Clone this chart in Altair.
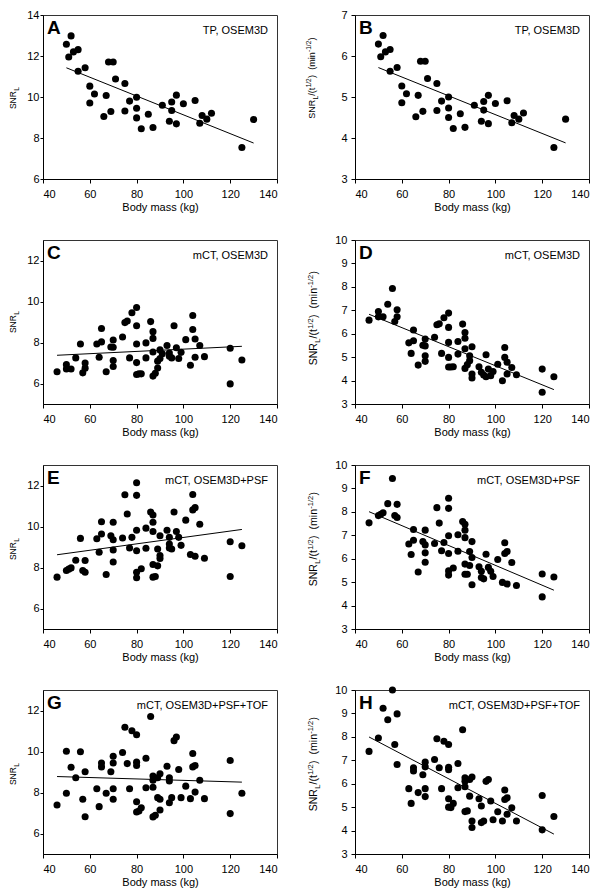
import altair as alt
import pandas as pd

FONT = "Liberation Sans"
W, H = 234, 164

# ---------------- data ----------------
mass_a = [50, 52, 51, 53, 55, 55, 58, 60, 60, 62, 66, 67, 68, 70, 69, 71, 75, 75, 77, 80,
          80, 80, 82, 85, 87, 91, 95, 97, 95, 94, 97, 100, 105, 107, 108, 110, 112, 125, 130]
snr_a = [12.57, 12.98, 11.95, 12.2, 12.31, 11.26, 11.43, 10.53, 9.71, 10.15, 9.05, 10.07, 11.71,
         11.71, 9.29, 10.88, 10.66, 9.32, 9.8, 9.99, 9.45, 8.98, 8.45, 9.16, 8.51, 9.6, 9.76,
         10.09, 9.34, 8.82, 8.69, 9.67, 9.83, 8.72, 9.1, 8.92, 9.21, 7.54, 8.9]

mass_b = mass_a
snr_b = [6.29, 6.5, 5.98, 6.1, 6.16, 5.63, 5.72, 5.27, 4.86, 5.08, 4.52, 5.04, 5.87, 5.87, 4.65,
         5.45, 5.33, 4.67, 4.9, 5.0, 4.73, 4.5, 4.23, 4.59, 4.26, 4.8, 4.89, 5.04, 4.68, 4.41,
         4.35, 4.84, 4.91, 4.37, 4.55, 4.46, 4.61, 3.77, 4.46]

mass_c = [46, 50, 50, 52, 54, 56, 57, 58, 58, 63, 64, 65, 65, 67, 69, 70, 70, 70, 70, 74, 75, 76,
          77, 78, 80, 80, 80, 80, 80, 81, 82, 84, 84, 86, 87, 87, 87, 87, 88, 89, 89, 90, 90, 91,
          93, 94, 94, 95, 96, 97, 98, 99, 101, 103, 104, 104, 105, 105, 107, 109, 120, 120, 125]
snr_c = [6.57, 6.92, 6.71, 6.71, 7.25, 7.93, 6.52, 7.0, 6.75, 7.93, 7.28, 8.03, 8.68, 6.57, 7.78,
         8.12, 7.77, 7.12, 6.83, 8.27, 8.97, 9.05, 7.25, 9.45, 9.71, 8.82, 7.93, 7.02, 6.44, 6.47,
         6.47, 7.98, 7.25, 9.02, 8.53, 8.2, 7.54, 6.36, 6.5, 7.09, 6.76, 7.22, 7.64, 7.45, 7.85,
         7.49, 7.33, 7.25, 8.82, 7.74, 7.22, 7.52, 8.14, 6.89, 9.32, 8.63, 8.17, 7.28, 7.85, 7.31,
         7.72, 5.98, 7.15]

mass_d = [46, 50, 50, 52, 54, 56, 57, 58, 58, 63, 64, 65, 65, 67, 69, 70, 70, 70, 70, 74, 75, 76,
          77, 78, 80, 80, 80, 80, 80, 81, 82, 84, 84, 86, 87, 87, 87, 87, 88, 89, 89, 90, 90, 90,
          93, 94, 95, 96, 96, 97, 98, 99, 101, 103, 104, 104, 105, 105, 107, 109, 120, 120, 125]
snr_d = [6.58, 6.95, 6.72, 6.72, 7.26, 7.93, 6.52, 7.02, 6.72, 5.61, 5.16, 6.16, 5.70, 4.66, 5.51,
         5.77, 5.48, 5.06, 4.82, 5.85, 6.38, 6.42, 5.16, 6.68, 6.88, 6.27, 5.63, 4.99, 4.58, 4.58,
         4.59, 5.67, 5.13, 6.41, 6.05, 5.81, 5.36, 4.52, 4.68, 4.85, 5.06, 5.44, 4.28, 4.11, 4.59,
         4.35, 4.24, 4.16, 5.10, 4.49, 4.21, 4.39, 4.70, 3.99, 5.41, 4.99, 4.78, 4.28, 4.56, 4.25,
         4.49, 3.50, 4.16]

mass_e = [46, 50, 51, 52, 54, 56, 57, 58, 58, 63, 64, 65, 65, 67, 69, 70, 70, 70, 70, 74, 75, 76,
          77, 78, 80, 80, 80, 80, 80, 80, 82, 84, 84, 86, 87, 87, 87, 87, 87, 88, 89, 89, 90, 90,
          90, 93, 94, 94, 94, 95, 96, 97, 98, 99, 101, 103, 104, 104, 105, 105, 107, 109, 120, 120, 125]
snr_e = [7.53, 7.85, 7.92, 7.98, 8.35, 9.42, 7.85, 7.77, 8.34, 9.40, 8.74, 9.63, 10.23, 7.66, 9.55,
         9.35, 8.85, 8.27, 10.21, 9.44, 11.55, 10.61, 8.95, 9.47, 12.13, 11.52, 9.82, 8.82, 7.77,
         7.5, 7.94, 9.92, 8.94, 10.71, 10.56, 10.21, 9.76, 8.15, 7.53, 7.56, 8.9, 8.08, 8.58, 9.55,
         8.44, 9.82, 9.47, 9.15, 8.95, 8.9, 10.71, 9.76, 9.47, 9.08, 10.31, 8.63, 11.56, 10.81,
         10.92, 8.55, 10.11, 8.45, 9.26, 7.56, 9.06]

mass_f = [46, 50, 51, 52, 54, 56, 57, 58, 58, 63, 64, 65, 65, 67, 69, 70, 70, 70, 70, 74, 75, 76,
          77, 78, 80, 80, 80, 80, 80, 80, 82, 84, 84, 86, 87, 87, 87, 87, 87, 88, 89, 89, 90, 90,
          90, 93, 94, 94, 95, 96, 97, 98, 99, 101, 103, 104, 104, 105, 105, 107, 109, 120, 120, 125]
snr_f = [7.53, 7.84, 7.90, 7.96, 8.35, 9.42, 7.84, 7.76, 8.32, 6.63, 6.18, 7.25, 6.79, 5.43, 6.73,
         6.59, 7.22, 6.25, 5.85, 6.65, 8.18, 7.52, 6.34, 6.69, 8.58, 8.15, 6.98, 6.22, 5.48, 5.30,
         5.6, 7.02, 6.32, 7.59, 7.47, 7.22, 6.9, 5.77, 5.34, 5.34, 6.31, 5.71, 6.73, 6.05, 4.89,
         5.66, 5.46, 5.2, 5.14, 6.19, 5.63, 5.46, 5.24, 5.97, 4.99, 6.68, 6.22, 6.31, 4.92, 5.84,
         4.86, 5.35, 4.37, 5.22]

mass_g = [46, 50, 50, 52, 54, 56, 57, 58, 58, 63, 64, 65, 65, 67, 69, 70, 70, 70, 70, 74, 75, 76,
          77, 78, 80, 80, 80, 80, 80, 81, 82, 84, 84, 86, 87, 87, 87, 87, 88, 89, 89, 90, 90, 90,
          93, 94, 94, 94, 95, 96, 97, 98, 99, 101, 103, 104, 104, 105, 105, 107, 109, 120, 120, 125]
snr_g = [7.39, 7.96, 10.01, 9.23, 8.72, 9.99, 7.67, 6.82, 9.01, 8.18, 7.31, 9.25, 9.44, 7.96, 9.01,
         9.77, 9.44, 8.18, 7.67, 9.95, 11.18, 9.41, 8.18, 11.01, 10.82, 9.48, 9.32, 7.55, 7.05,
         7.1, 7.26, 9.67, 8.23, 11.71, 8.8, 8.6, 8.26, 6.81, 6.89, 8.72, 7.75, 8.91, 7.67, 7.15,
         9.28, 8.72, 8.56, 7.5, 7.75, 10.53, 10.71, 9.12, 7.75, 8.31, 7.7, 9.9, 9.25, 9.32, 8.02,
         8.6, 7.7, 9.56, 6.97, 7.96]

mass_h = [46, 50, 52, 54, 56, 57, 58, 58, 63, 64, 65, 65, 67, 69, 70, 70, 70, 70, 74, 75, 76, 77,
          78, 80, 80, 80, 80, 80, 81, 82, 84, 84, 86, 87, 87, 87, 87, 88, 89, 89, 90, 90, 90, 93,
          94, 94, 95, 96, 97, 98, 99, 101, 103, 104, 104, 105, 105, 107, 109, 120, 120, 125]
snr_h = [7.38, 7.95, 9.22, 8.73, 10.0, 7.67, 8.98, 6.82, 5.79, 5.16, 6.68, 6.54, 5.62, 6.38, 6.92,
         6.72, 5.79, 5.45, 7.03, 7.92, 6.68, 5.79, 7.81, 7.67, 6.7, 6.6, 5.36, 5.0, 4.98, 5.16,
         6.86, 5.83, 8.3, 6.25, 6.11, 5.87, 4.81, 4.84, 6.18, 5.47, 6.29, 4.41, 4.13, 5.36, 5.05,
         4.34, 4.41, 6.1, 6.18, 5.26, 4.46, 4.8, 4.41, 5.73, 5.33, 5.4, 4.7, 4.97, 4.41, 5.5,
         4.03, 4.6]

x_ticks = [40, 60, 80, 100, 120, 140]
x_title = "Body mass (kg)"

# ---------------- helpers ----------------
ADV = {"S": 667, "N": 722, "R": 722, "L": 556, "/": 278, "(": 333, ")": 333, "t": 278,
       "1": 556, "2": 556, " ": 278, "m": 833, "i": 222, "n": 556, "-": 333}


def tw(s, size):
    return sum(ADV.get(c, 556) for c in s) * size / 1000.0


def txt(s, x, y, size, bold=False, align="left", angle=0):
    kw = dict(align=align, baseline="alphabetic", fontSize=size, font=FONT, color="black")
    if bold:
        kw["fontWeight"] = "bold"
    if angle:
        kw["angle"] = angle
    return alt.Chart(alt.Data(values=[{}])).mark_text(**kw).encode(
        x=alt.value(x), y=alt.value(y), text=alt.value(s))


LEFT_PIECES = [("SNR", "n"), ("L", "sub")]
RIGHT_PIECES = [("SNR", "n"), ("L", "sub"), ("/(t", "n"), ("1/2", "sup"), (")", "n"),
                (0.556, "gap"), ("(min", "n"), ("-1/2", "sup"), (")", "n")]


def ytitle(pieces, f, s, center, xb):
    widths = []
    for t, kind in pieces:
        if kind == "gap":
            widths.append(t * f)
        elif kind == "n":
            widths.append(tw(t, f) + 0.3)
        else:
            widths.append(tw(t, s) + 0.3)
    y = center + sum(widths) / 2.0
    out = []
    for (t, kind), w in zip(pieces, widths):
        if kind != "gap":
            size = f if kind == "n" else s
            dx = 0 if kind == "n" else (0.3 * f if kind == "sub" else -0.42 * f)
            out.append(txt(t, xb + dx, y, size, angle=270))
        y -= w
    return out


def panel(mass, vals, ydom, yvals, letter, label, right, tcenter):
    df = pd.DataFrame({"mass": mass, "v": vals})
    xenc = alt.X("mass:Q", scale=alt.Scale(domain=[40, 140], nice=False, zero=False),
                 axis=alt.Axis(values=x_ticks, title=x_title, labelPadding=5, tickSize=4,
                               titlePadding=2))
    yenc = alt.Y("v:Q", scale=alt.Scale(domain=ydom, nice=False, zero=False),
                 axis=alt.Axis(values=yvals, title=None, tickSize=4 if right else 3,
                               labelPadding=4 if right else 1))
    base = alt.Chart(df)
    reg = base.transform_regression("mass", "v").mark_line(
        color="black", strokeWidth=1).encode(x=xenc, y=yenc)
    pts = base.mark_circle(size=50, color="black", opacity=1).encode(x=xenc, y=yenc)
    layers = [reg, pts, txt(letter, 4, 19, 19, bold=True), txt(label, W - 9, 19, 11, align="right")]
    if right:
        layers += ytitle(RIGHT_PIECES, 10.5 if letter != "B" else 9, 7.5 if letter != "B" else 6.5,
                         tcenter, -38 if letter != "B" else -40)
    else:
        layers += ytitle(LEFT_PIECES, 8.5, 6.5, tcenter, -27)
    return alt.layer(*layers).properties(width=W, height=H)


panels = [
    panel(mass_a, snr_a, [6, 14], [6, 8, 10, 12, 14], "A", "TP, OSEM3D", False, 83),
    panel(mass_b, snr_b, [3, 7], [3, 4, 5, 6, 7], "B", "TP, OSEM3D", True, 63),
    panel(mass_c, snr_c, [5, 13], [6, 8, 10, 12], "C", "mCT, OSEM3D", False, 82),
    panel(mass_d, snr_d, [3, 10], [3, 4, 5, 6, 7, 8, 9, 10], "D", "mCT, OSEM3D", True, 78),
    panel(mass_e, snr_e, [5, 13], [6, 8, 10, 12], "E", "mCT, OSEM3D+PSF", False, 84),
    panel(mass_f, snr_f, [3, 10], [3, 4, 5, 6, 7, 8, 9, 10], "F", "mCT, OSEM3D+PSF", True, 74),
    panel(mass_g, snr_g, [5, 13], [6, 8, 10, 12], "G", "mCT, OSEM3D+PSF+TOF", False, 84),
    panel(mass_h, snr_h, [3, 10], [3, 4, 5, 6, 7, 8, 9, 10], "H", "mCT, OSEM3D+PSF+TOF", True, 74),
]

chart = alt.concat(
    *panels, columns=2, spacing={"row": 61, "column": 78}, bounds="flush", padding=0
).configure_view(
    stroke="#333", strokeWidth=1
).configure_axis(
    domainColor="black", tickColor="black", labelColor="black", titleColor="black",
    labelFont=FONT, titleFont=FONT, labelFontSize=11, titleFontSize=11,
    titleFontWeight="normal", grid=False, domainWidth=1, tickWidth=1
)

chart.save("out.html", embed_options={"renderer": "svg", "actions": False})
